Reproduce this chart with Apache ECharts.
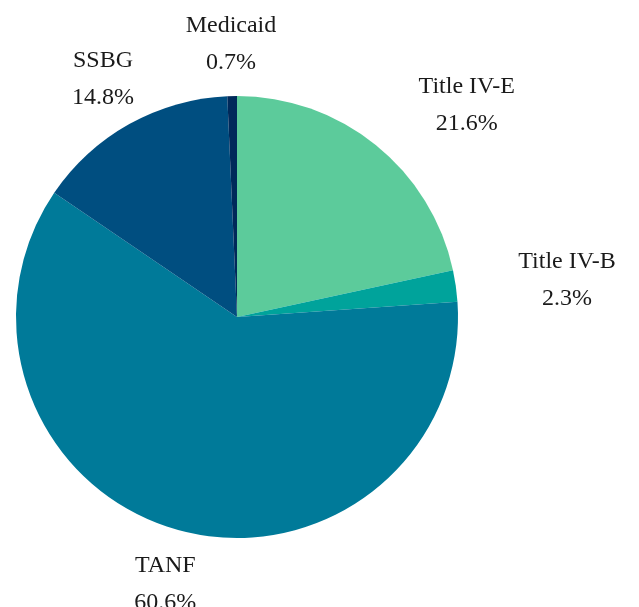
<!DOCTYPE html>
<html>
<head>
<meta charset="utf-8">
<script src="https://cdn.jsdelivr.net/npm/echarts@6/dist/echarts.min.js"></script>
<style>
  html, body { margin: 0; padding: 0; background: #fff; }
  #chart { width: 639px; height: 607px; }
</style>
</head>
<body>
<div id="chart"></div>
<script>
const categories = ["Title IV-E", "Title IV-B", "TANF", "SSBG", "Medicaid"];
const shares = [21.6, 2.3, 60.6, 14.8, 0.7];
const colors = ["#5ccb9b", "#00a39b", "#007a99", "#004e80", "#00295a"];

const chart = echarts.init(document.getElementById("chart"));

const option = {
  backgroundColor: "#fff",
  color: colors,
  series: [
    {
      type: "pie",
      center: [237, 317],
      radius: 221,
      startAngle: 90,
      clockwise: true,
      avoidLabelOverlap: false,
      itemStyle: { borderWidth: 0 },
      label: {
        show: true,
        position: "outside",
        formatter: (p) => p.name + "\n" + p.value.toFixed(1) + "%",
        fontFamily: "Liberation Serif",
        fontSize: 24,
        lineHeight: 37,
        color: "#1a1a1a",
        align: "center"
      },
      labelLine: {
        show: true,
        length: 54,
        length2: 0,
        lineStyle: { opacity: 0, width: 0 }
      },
      labelLayout: (params) => {
        const pts = params.labelLinePoints;
        if (!pts) return {};
        const p1 = pts[0], p2 = pts[1];
        const dx = p2[0] - p1[0], dy = p2[1] - p1[1];
        const len = Math.sqrt(dx * dx + dy * dy) || 1;
        const ux = dx / len;
        const w = params.labelRect.width;
        // right side labels start just past the anchor, others are centred on it
        const x = ux > 0.3 ? p2[0] + w / 2 + 9 : p2[0];
        return { x: x, y: p2[1] + 2, align: "center", verticalAlign: "middle" };
      },
      emphasis: { disabled: true },
      data: categories.map((name, i) => ({ name: name, value: shares[i] }))
    }
  ]
};

chart.setOption(option);

window.addEventListener("resize", () => {
  chart.resize();
});
</script>
</body>
</html>
